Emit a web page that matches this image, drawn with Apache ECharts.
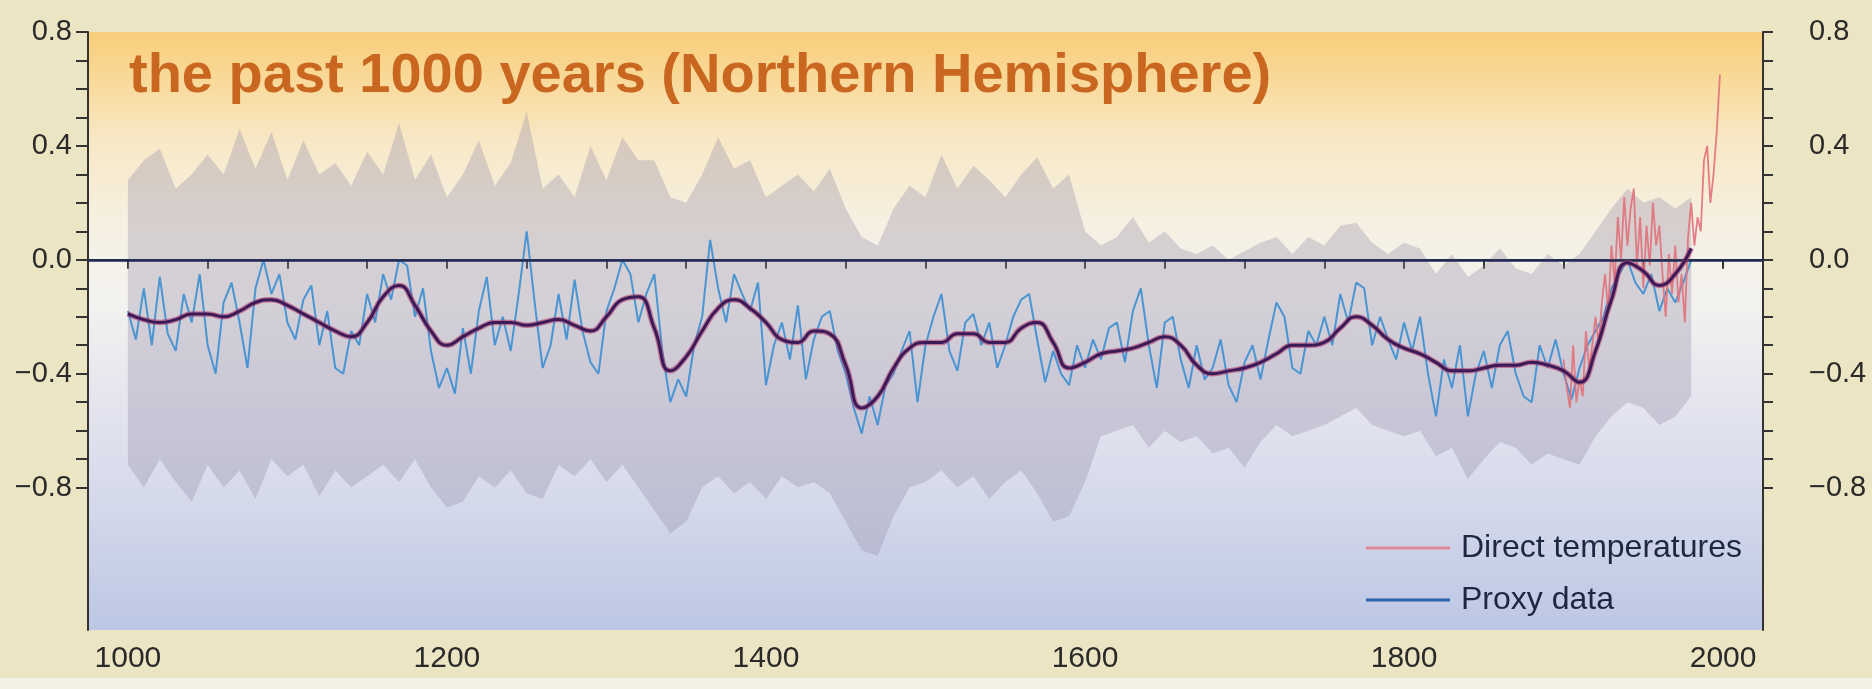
<!DOCTYPE html>
<html><head><meta charset="utf-8">
<script src="https://cdn.jsdelivr.net/npm/echarts@6/dist/echarts.min.js"></script>
<style>html,body{margin:0;padding:0;background:#ece5c3;}#c{width:1872px;height:689px;}</style>
</head><body><div id="c"></div>
<script>
// ---- axis ticks / labels ----
const xTickValues = [1000,1050,1100,1150,1200,1250,1300,1350,1400,1450,1500,1550,1600,1650,1700,1750,1800,1850,1900,1950,2000];
const xLabelValues = [1000,1200,1400,1600,1800,2000];
const yTickValues = [-0.8,-0.7,-0.6,-0.5,-0.4,-0.3,-0.2,-0.1,0,0.1,0.2,0.3,0.4,0.5,0.6,0.7,0.8];
const yLabelValues = [-0.8,-0.4,0,0.4,0.8];

// ---- proxy data (blue), every 5 years from 1000 ----
const proxyStartYear = 1000, proxyStep = 5;
const proxyValues = [
 -0.18,-0.28,-0.10,-0.30,-0.06,-0.26,-0.32,-0.12,-0.22,-0.05,
 -0.30,-0.40,-0.15,-0.08,-0.22,-0.38,-0.10,0.00,-0.12,-0.05,
 -0.22,-0.28,-0.14,-0.09,-0.30,-0.18,-0.38,-0.40,-0.25,-0.30,
 -0.12,-0.22,-0.05,-0.14,0.00,-0.02,-0.20,-0.10,-0.32,-0.45,
 -0.38,-0.47,-0.24,-0.40,-0.18,-0.06,-0.30,-0.20,-0.32,-0.12,
 0.10,-0.15,-0.38,-0.30,-0.12,-0.28,-0.07,-0.25,-0.36,-0.40,
 -0.18,-0.10,0.00,-0.05,-0.22,-0.12,-0.05,-0.32,-0.50,-0.42,
 -0.48,-0.30,-0.20,0.07,-0.10,-0.22,-0.05,-0.12,-0.18,-0.08,
 -0.44,-0.30,-0.22,-0.35,-0.16,-0.42,-0.28,-0.20,-0.18,-0.32,
 -0.40,-0.52,-0.61,-0.48,-0.58,-0.44,-0.40,-0.32,-0.25,-0.50,
 -0.30,-0.20,-0.12,-0.32,-0.39,-0.22,-0.19,-0.30,-0.22,-0.38,
 -0.30,-0.20,-0.14,-0.12,-0.28,-0.43,-0.32,-0.40,-0.44,-0.30,
 -0.38,-0.28,-0.35,-0.24,-0.22,-0.36,-0.18,-0.10,-0.30,-0.45,
 -0.22,-0.20,-0.35,-0.45,-0.30,-0.42,-0.38,-0.28,-0.44,-0.50,
 -0.36,-0.30,-0.42,-0.28,-0.15,-0.20,-0.38,-0.40,-0.25,-0.30,
 -0.20,-0.30,-0.12,-0.22,-0.08,-0.10,-0.30,-0.20,-0.28,-0.35,
 -0.22,-0.32,-0.20,-0.40,-0.55,-0.35,-0.45,-0.30,-0.55,-0.40,
 -0.32,-0.45,-0.30,-0.25,-0.40,-0.48,-0.50,-0.30,-0.38,-0.28,
 -0.40,-0.49,-0.38,-0.30,-0.25,-0.20,-0.10,-0.05,0.00,-0.08,
 -0.12,-0.05,-0.18,-0.10,-0.15,-0.08,0.00
];

// ---- smoothed curve, every 10 years from 1000 ----
const smoothStartYear = 1000, smoothStep = 10;
const smoothValues = [
 -0.19,-0.21,-0.22,-0.21,-0.19,-0.19,-0.20,-0.18,-0.15,-0.14,
 -0.16,-0.19,-0.22,-0.25,-0.27,-0.22,-0.13,-0.09,-0.16,-0.25,
 -0.30,-0.27,-0.24,-0.22,-0.22,-0.23,-0.22,-0.21,-0.23,-0.25,
 -0.20,-0.14,-0.13,-0.24,-0.39,-0.34,-0.25,-0.17,-0.14,-0.17,
 -0.22,-0.28,-0.29,-0.25,-0.26,-0.37,-0.52,-0.48,-0.38,-0.31,
 -0.29,-0.29,-0.26,-0.26,-0.29,-0.29,-0.24,-0.22,-0.29,-0.38,
 -0.36,-0.33,-0.32,-0.31,-0.29,-0.27,-0.30,-0.37,-0.40,-0.39,
 -0.38,-0.36,-0.33,-0.30,-0.30,-0.29,-0.24,-0.20,-0.23,-0.28,
 -0.31,-0.33,-0.36,-0.39,-0.39,-0.38,-0.37,-0.37,-0.36,-0.37,
 -0.39,-0.43,-0.32,-0.14,-0.01,-0.04,-0.09,-0.05,0.04
];

// ---- direct (instrumental) temperatures, every 2 years from 1900 ----
const directStartYear = 1900, directStep = 2;
const directValues = [
 -0.35,-0.45,-0.52,-0.30,-0.50,-0.42,-0.48,-0.25,-0.38,-0.30,
 -0.20,-0.30,-0.15,-0.05,-0.18,0.05,-0.08,0.15,0.00,0.22,
 0.05,0.18,0.25,-0.02,0.15,-0.10,0.12,-0.02,0.20,0.05,
 0.12,-0.05,-0.20,0.02,-0.12,0.05,-0.15,-0.05,-0.22,0.08,
 0.20,0.05,0.15,0.10,0.35,0.40,0.20,0.30,0.45,0.65
];

// ---- uncertainty band (grey), every 10 years from 1000 ----
const bandStartYear = 1000, bandStep = 10;
const bandUpper = [
 0.28,0.35,0.39,0.25,0.30,0.37,0.30,0.46,0.32,0.45,
 0.28,0.42,0.30,0.34,0.26,0.38,0.30,0.48,0.28,0.37,
 0.22,0.30,0.42,0.26,0.34,0.52,0.25,0.30,0.22,0.40,
 0.28,0.43,0.35,0.35,0.22,0.20,0.30,0.43,0.32,0.35,
 0.22,0.26,0.30,0.24,0.32,0.18,0.08,0.05,0.18,0.26,
 0.22,0.37,0.25,0.33,0.28,0.22,0.30,0.36,0.25,0.30,
 0.10,0.05,0.08,0.15,0.06,0.10,0.04,0.02,0.05,0.00,
 0.03,0.06,0.08,0.02,0.08,0.05,0.12,0.13,0.06,0.02,
 0.06,0.04,-0.05,0.02,-0.06,-0.02,0.04,-0.03,-0.05,0.02,
 -0.02,0.02,0.10,0.18,0.25,0.20,0.22,0.18,0.22
];
const bandLower = [
 -0.72,-0.80,-0.70,-0.78,-0.85,-0.72,-0.80,-0.74,-0.84,-0.70,
 -0.76,-0.72,-0.83,-0.74,-0.80,-0.76,-0.72,-0.78,-0.70,-0.80,
 -0.87,-0.85,-0.76,-0.80,-0.74,-0.82,-0.84,-0.72,-0.76,-0.70,
 -0.78,-0.72,-0.80,-0.88,-0.96,-0.92,-0.80,-0.76,-0.82,-0.78,
 -0.84,-0.76,-0.80,-0.78,-0.82,-0.92,-1.02,-1.04,-0.90,-0.80,
 -0.78,-0.74,-0.80,-0.76,-0.84,-0.78,-0.74,-0.82,-0.92,-0.90,
 -0.78,-0.62,-0.60,-0.58,-0.66,-0.60,-0.64,-0.62,-0.68,-0.66,
 -0.73,-0.64,-0.58,-0.62,-0.60,-0.58,-0.55,-0.52,-0.58,-0.60,
 -0.62,-0.60,-0.69,-0.66,-0.77,-0.70,-0.64,-0.66,-0.72,-0.68,
 -0.70,-0.72,-0.62,-0.55,-0.50,-0.52,-0.58,-0.55,-0.48
];

const titleText = 'the past 1000 years (Northern Hemisphere)';
const legendNames = ['Direct temperatures', 'Proxy data'];

// ---- build pairs for the library ----
const pairs = (start, step, arr) => arr.map((v, i) => [start + i * step, v]);
const proxyData = pairs(proxyStartYear, proxyStep, proxyValues);
const smoothData = pairs(smoothStartYear, smoothStep, smoothValues);
const directData = pairs(directStartYear, directStep, directValues);
const bandData = bandUpper.map((u, i) => [bandStartYear + i * bandStep, u, bandLower[i]]);

const FONT = "'Liberation Sans', Arial, sans-serif";
const fmtY = v => (Math.abs(v) < 1e-9 ? '0.0' : (v < 0 ? '\u2212' : '') + Math.abs(v).toFixed(1));

const axisLineStyle = { color: '#333333', width: 2 };

function renderBand(params, api) {
  if (params.dataIndex !== 0) return null;
  const pts = [];
  for (let i = 0; i < bandData.length; i++) pts.push(api.coord([bandData[i][0], bandData[i][1]]));
  for (let i = bandData.length - 1; i >= 0; i--) pts.push(api.coord([bandData[i][0], bandData[i][2]]));
  return {
    type: 'polygon',
    shape: { points: pts },
    style: { fill: 'rgba(150,140,168,0.33)' }
  };
}

const chart = echarts.init(document.getElementById('c'), null, { renderer: 'canvas' });
chart.setOption({
  animation: false,
  backgroundColor: '#ece5c3',
  title: {
    text: titleText,
    left: 124, top: 44,
    textStyle: { color: '#c9661f', fontSize: 56, fontWeight: 'bold', fontFamily: FONT }
  },
  graphic: [
    { type: 'rect', left: 0, top: 678, shape: { width: 1872, height: 11 }, style: { fill: '#f3f0e4' }, z: -1 }
  ],
  legend: {
    orient: 'vertical',
    left: 1361, top: 526,
    icon: 'rect',
    itemWidth: 84, itemHeight: 3,
    itemGap: 18,
    data: [
      { name: legendNames[0], itemStyle: { color: '#e3879a' } },
      { name: legendNames[1], itemStyle: { color: '#2f62a8' } }
    ],
    textStyle: { fontSize: 32, lineHeight: 34, color: '#1e2742', fontFamily: FONT, padding: [0, 0, 0, 6] }
  },
  grid: {
    left: 88, right: 109, top: 32, bottom: 59,
    show: true, borderWidth: 0,
    backgroundColor: {
      type: 'linear', x: 0, y: 0, x2: 0, y2: 1,
      colorStops: [
        { offset: 0, color: '#f8cd7a' },
        { offset: 0.07, color: '#f9d895' },
        { offset: 0.18, color: '#f8e8c6' },
        { offset: 0.32, color: '#f6f0e2' },
        { offset: 0.45, color: '#f3f2ef' },
        { offset: 0.6, color: '#e6e6ef' },
        { offset: 0.8, color: '#d3d8ea' },
        { offset: 1, color: '#bcc7e4' }
      ]
    }
  },
  xAxis: {
    type: 'value', min: 975, max: 2025,
    axisLine: { show: true, lineStyle: axisLineStyle },
    axisTick: { show: true, customValues: xTickValues, length: 9, lineStyle: axisLineStyle },
    axisLabel: { customValues: xLabelValues, formatter: v => String(v), fontSize: 30, color: '#2a2a2a', margin: 14, fontFamily: FONT },
    splitLine: { show: false }
  },
  yAxis: [
    {
      type: 'value', min: -1.3, max: 0.8, position: 'left',
      axisLine: { show: true, lineStyle: axisLineStyle },
      axisTick: { show: true, customValues: yTickValues, length: 12, lineStyle: axisLineStyle },
      axisLabel: { customValues: yLabelValues, formatter: fmtY, fontSize: 29, color: '#2a2a2a', margin: 16, fontFamily: FONT },
      splitLine: { show: false }
    },
    {
      type: 'value', min: -1.3, max: 0.8, position: 'right',
      axisLine: { show: true, lineStyle: axisLineStyle },
      axisTick: { show: true, customValues: yTickValues, length: 10, lineStyle: axisLineStyle },
      axisLabel: { customValues: yLabelValues, formatter: fmtY, fontSize: 29, color: '#2a2a2a', margin: 46, fontFamily: FONT },
      splitLine: { show: false }
    }
  ],
  series: [
    {
      name: 'band', type: 'custom', data: bandData, renderItem: renderBand,
      encode: { x: 0, y: [1, 2] }, silent: true, z: 1, clip: true
    },
    {
      name: 'Proxy data', type: 'line', data: proxyData, symbol: 'none',
      lineStyle: { color: '#3b8ed2', width: 2, opacity: 0.9 }, itemStyle: { color: '#3b8ed2' }, z: 3,
      markLine: {
        silent: true, symbol: 'none', label: { show: false },
        lineStyle: { color: '#1f2a55', width: 2.5, type: 'solid' },
        data: [{ yAxis: 0 }]
      }
    },
    {
      name: 'Direct temperatures', type: 'line', data: directData, symbol: 'none',
      lineStyle: { color: '#e2717a', width: 1.8, opacity: 0.9 }, itemStyle: { color: '#e2717a' }, z: 4
    },
    {
      name: 'smooth-halo', type: 'line', data: smoothData, symbol: 'none', smooth: 0.5,
      lineStyle: { color: '#b23a6a', width: 5.5, opacity: 0.6 }, z: 5, silent: true
    },
    {
      name: 'smooth', type: 'line', data: smoothData, symbol: 'none', smooth: 0.5,
      lineStyle: { color: '#3b1a58', width: 3 }, z: 6, silent: true
    }
  ]
});
</script>
</body></html>
